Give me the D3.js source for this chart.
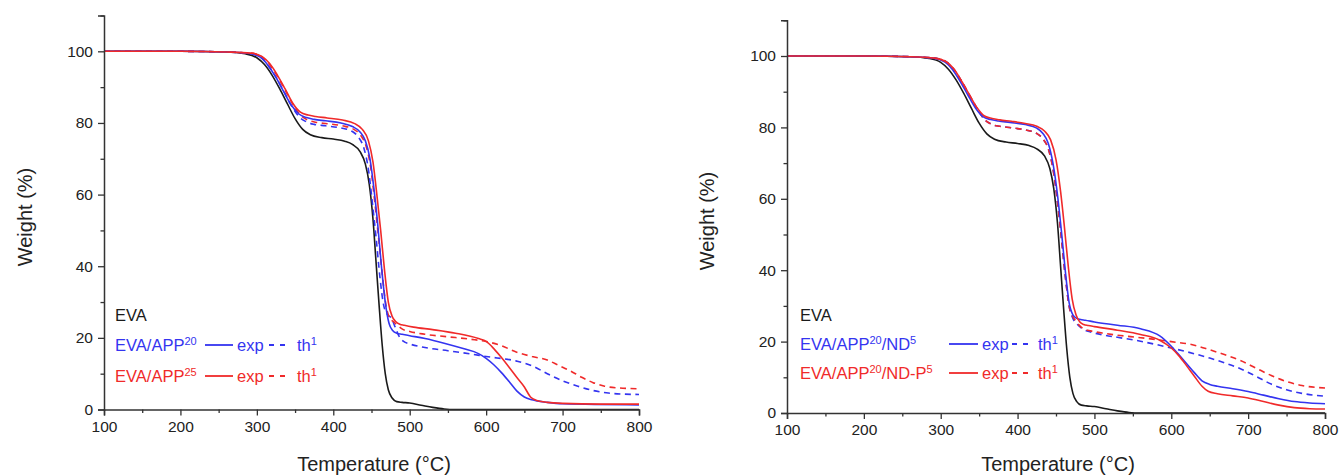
<!DOCTYPE html>
<html>
<head>
<meta charset="utf-8">
<script src="https://cdn.jsdelivr.net/npm/d3@7"></script>
<style>
  html, body { margin: 0; padding: 0; background: #fff; }
  svg { display: block; font-family: "Liberation Sans", Arial, sans-serif; }
</style>
</head>
<body>
<svg id="chart" width="1340" height="475"></svg>
<script>
// ---------- data ----------
const xTickValues = [100, 200, 300, 400, 500, 600, 700, 800];
const yTickValues = [0, 20, 40, 60, 80, 100];

// EVA (same sample in both panels)
const evaT = [100,200,260,285,300,310,320,330,340,350,360,370,385,400,415,425,435,442,447,452,456,460,464,468,472,477,483,490,500,515,530,545,560,800];
const evaW = [100,100,99.8,99.3,98.2,96.3,93.3,89.5,85.3,81.2,78.2,76.7,75.9,75.5,74.9,74.0,72.0,68.5,63,53,41,29,18,10,5.5,3.2,2.2,2.0,1.8,1.2,0.6,0.15,0,0];

// Left panel: EVA/APP20
const app20ExpT = [100,200,260,290,305,315,325,335,345,355,365,375,390,410,425,435,442,448,453,458,463,468,473,478,483,490,500,520,545,570,590,600,610,620,630,640,650,660,680,700,800];
const app20ExpW = [100,100,99.8,99.4,98.3,96.0,92.7,88.8,85.0,82.5,81.5,81.0,80.6,80.0,79.0,77.5,75.0,70,62,52,40,30,24,22,21.3,21,20.6,19.8,18.5,17.0,15.6,14.3,12.5,10.3,7.8,5.2,3.5,2.7,2.0,1.6,1.3];
const app20ThT = [100,200,260,290,305,315,325,335,345,355,365,375,390,410,425,433,440,446,451,456,461,466,471,476,481,486,492,500,520,550,580,600,640,660,680,700,720,740,760,780,800];
const app20ThW = [100,100,99.8,99.4,98.3,96,92.8,88.9,84.9,81.8,80.3,79.6,79.2,78.6,77.6,76.0,73,67,58,48,37,29,26.5,25.5,23,20.5,19,18.3,17.3,16.4,15.5,14.8,13.5,12.2,10,8,6.5,5.3,4.6,4.3,4.2];

// Left panel: EVA/APP25
const app25ExpT = [100,200,260,292,307,317,327,337,347,357,367,377,392,412,428,438,446,452,457,462,467,472,477,482,487,493,505,530,560,590,600,610,620,630,640,650,658,665,680,700,750,800];
const app25ExpW = [100,100,99.8,99.5,98.5,96.5,93.3,89.5,85.5,83,82.2,81.8,81.4,80.8,79.8,78.2,75,69,60,50,39,30,26,24.5,23.8,23.5,23,22.3,21.3,19.8,19,17,14.5,11.8,9,6.3,3.5,2.6,2.0,1.7,1.5,1.5];
const app25ThT = [100,200,260,292,307,317,327,337,347,357,367,377,392,412,427,436,443,449,454,459,464,469,474,479,484,490,500,520,550,580,600,620,640,660,680,695,710,725,740,755,775,800];
const app25ThW = [100,100,99.8,99.5,98.4,96.2,93,89.2,85.2,82.2,80.8,80.2,79.8,79.2,78.2,76.5,73.5,67.5,58.5,48.5,38,29,25.5,24.5,23.5,22.5,21.8,21,20.3,19.6,19,17.8,16,14.8,13.8,12.3,10.8,9,7.5,6.5,6,5.8];

// Right panel: EVA/APP20/ND5
const ndExpT = [100,200,260,290,305,315,325,335,345,355,365,375,390,410,425,433,440,446,452,457,462,467,472,477,482,488,500,530,560,585,600,610,620,630,640,650,660,680,700,720,740,760,780,800];
const ndExpW = [100,100,99.8,99.4,98.4,96.3,93,89.2,85.5,83,82.2,81.8,81.4,80.8,79.8,78.3,75.5,70,61,51,40,31,27.5,26.5,26.2,26,25.5,24.6,23.6,21.6,18.7,16.3,13.8,11.3,9,8,7.5,6.8,6,5,4,3.2,2.8,2.6];
const ndThT = [100,200,260,292,307,317,327,337,347,357,367,377,392,410,425,433,440,446,452,457,462,467,472,477,482,487,495,510,530,560,600,630,650,670,690,710,730,750,770,800];
const ndThW = [100,100,99.8,99.4,98.4,96.3,93,89.2,85.4,82.2,80.8,80.3,79.9,79.3,78.3,76.8,74,68.5,59,49,38.5,30,26.5,25,24,23.3,22.7,21.9,21.2,20.1,18.2,16.6,15.4,14,12.4,10.3,8.1,6.5,5.5,4.7];

// Right panel: EVA/APP20/ND-P5
const ndpExpT = [100,200,260,292,307,317,327,337,347,357,367,377,392,410,425,435,443,450,456,461,466,471,476,481,486,492,500,530,560,585,600,610,620,630,640,648,660,680,700,720,740,760,780,800];
const ndpExpW = [100,100,99.8,99.4,98.4,96.4,93,89.3,85.6,83.2,82.5,82.1,81.7,81.1,80.3,79,76.5,71,62,52,41,32,27.5,25.5,24.8,24.5,24.2,23.2,22,20.4,18.2,16,13.2,10.3,7.5,6.1,5.4,4.8,4.2,3.2,2.2,1.5,1.2,1.1];
const ndpThT = [100,200,260,292,307,317,327,337,347,357,367,377,392,410,425,433,440,446,452,457,462,467,472,477,482,487,495,510,530,560,600,630,650,670,690,710,730,750,770,800];
const ndpThW = [100,100,99.8,99.4,98.4,96.3,93,89.2,85.4,82.2,80.8,80.3,79.9,79.3,78.3,76.8,74,68.5,59,49,38.5,30,27,25.5,24.2,23.5,23,22.4,21.8,21.1,20,19,17.7,16.3,14.7,12.6,10.5,8.8,7.7,7];

// legend labels
const leftLegend = [
  { parts: [["EVA", false]], color: "black", exp: false },
  { parts: [["EVA/APP", false], ["20", true]], color: "blue", exp: true },
  { parts: [["EVA/APP", false], ["25", true]], color: "red", exp: true }
];
const rightLegend = [
  { parts: [["EVA", false]], color: "black", exp: false },
  { parts: [["EVA/APP", false], ["20", true], ["/ND", false], ["5", true]], color: "blue", exp: true },
  { parts: [["EVA/APP", false], ["20", true], ["/ND-P", false], ["5", true]], color: "red", exp: true }
];

// ---------- styling ----------
const COLORS = { black: "#1a1a1a", blue: "#3434f0", red: "#f02a2a" };
const DASH = "6,4.5";
const svg = d3.select("#chart");

function zip(T, W) { return T.map((t, i) => [t, W[i]]); }

function drawPanel(opt) {
  const x = d3.scaleLinear().domain([100, 800]).range([opt.x0, opt.x1]);
  const y = d3.scaleLinear().domain([0, 110]).range([opt.y0, opt.yTop]);
  const g = svg.append("g");

  const line = d3.line().x(d => x(d[0])).y(d => y(d[1])).curve(d3.curveMonotoneX);

  // series
  opt.series.forEach(s => {
    g.append("path")
      .attr("d", line(zip(s.T, s.W)))
      .attr("fill", "none")
      .attr("stroke", COLORS[s.color])
      .attr("stroke-width", 1.6)
      .attr("stroke-linejoin", "round")
      .attr("stroke-dasharray", s.dash ? DASH : null);
  });

  // axes
  const xAxis = d3.axisBottom(x).tickValues(xTickValues).tickSize(6).tickPadding(5).tickFormat(d3.format("d"));
  const xMinor = d3.axisBottom(x).tickValues(d3.range(150, 800, 100)).tickSize(3.5).tickFormat("");
  const yAxis = d3.axisLeft(y).tickValues(yTickValues).tickSize(6).tickPadding(5).tickFormat(d3.format("d"));
  const yMinor = d3.axisLeft(y).tickValues(d3.range(10, 111, 20)).tickSize(3.5).tickFormat("");

  const gx = g.append("g").attr("transform", `translate(0,${opt.y0})`).call(xAxis);
  const gxm = g.append("g").attr("transform", `translate(0,${opt.y0})`).call(xMinor);
  const gy = g.append("g").attr("transform", `translate(${opt.x0},0)`).call(yAxis);
  const gym = g.append("g").attr("transform", `translate(${opt.x0},0)`).call(yMinor);
  [gx, gxm, gy, gym].forEach(a => {
    a.selectAll("path.domain").attr("stroke", "#333").attr("stroke-width", 1.5);
    a.selectAll(".tick line").attr("stroke", "#333").attr("stroke-width", 1.3);
    a.selectAll(".tick text").attr("fill", "#222").style("font-size", "15.5px")
      .style("font-family", "'Liberation Sans', Arial, sans-serif");
  });
  gxm.select("path.domain").remove();
  gym.select("path.domain").remove();

  // axis titles
  g.append("text")
    .attr("x", opt.xTitleX).attr("y", 471)
    .attr("text-anchor", "middle")
    .style("font-size", "20px").attr("fill", "#222")
    .text("Temperature (°C)");
  g.append("text")
    .attr("transform", `translate(${opt.yTitleX},${opt.yTitleY}) rotate(-90)`)
    .attr("text-anchor", "middle")
    .style("font-size", "20px").attr("fill", "#222")
    .text("Weight (%)");

  // legend
  opt.legend.forEach((row, i) => {
    const by = opt.legBase[i];
    const t = g.append("text").attr("x", opt.legX).attr("y", by)
      .attr("fill", COLORS[row.color]).style("font-size", "16.5px");
    row.parts.forEach(p => {
      const ts = t.append("tspan").text(p[0]);
      if (p[1]) ts.attr("baseline-shift", "super").style("font-size", "11px");
    });
    if (row.exp) {
      const cy = by - 6;
      g.append("line").attr("x1", opt.lineX[0]).attr("x2", opt.lineX[1])
        .attr("y1", cy).attr("y2", cy)
        .attr("stroke", COLORS[row.color]).attr("stroke-width", 1.8);
      g.append("text").attr("x", opt.expX).attr("y", by)
        .attr("fill", COLORS[row.color]).style("font-size", "16.5px").text("exp");
      g.append("line").attr("x1", opt.dashX[0]).attr("x2", opt.dashX[1])
        .attr("y1", cy).attr("y2", cy)
        .attr("stroke", COLORS[row.color]).attr("stroke-width", 1.8)
        .attr("stroke-dasharray", "5,6");
      const th = g.append("text").attr("x", opt.thX).attr("y", by)
        .attr("fill", COLORS[row.color]).style("font-size", "16.5px");
      th.append("tspan").text("th");
      th.append("tspan").text("1").attr("baseline-shift", "super").style("font-size", "11px");
    }
  });
}

drawPanel({
  x0: 104, x1: 639, y0: 409.5, yTop: 15.5,
  xTitleX: 374, yTitleX: 32, yTitleY: 217,
  legX: 115, legBase: [321, 351, 382],
  lineX: [205, 233], expX: 237, dashX: [269, 291], thX: 297,
  legend: leftLegend,
  series: [
    { T: evaT, W: evaW, color: "black", dash: false },
    { T: app20ThT, W: app20ThW, color: "blue", dash: true },
    { T: app25ThT, W: app25ThW, color: "red", dash: true },
    { T: app20ExpT, W: app20ExpW, color: "blue", dash: false },
    { T: app25ExpT, W: app25ExpW, color: "red", dash: false }
  ]
});

drawPanel({
  x0: 787, x1: 1325, y0: 413, yTop: 20.3,
  xTitleX: 1058, yTitleX: 714, yTitleY: 221,
  legX: 800, legBase: [321, 350, 379],
  lineX: [949, 978], expX: 982, dashX: [1012, 1032], thX: 1038,
  legend: rightLegend,
  series: [
    { T: evaT, W: evaW, color: "black", dash: false },
    { T: ndThT, W: ndThW, color: "blue", dash: true },
    { T: ndpThT, W: ndpThW, color: "red", dash: true },
    { T: ndExpT, W: ndExpW, color: "blue", dash: false },
    { T: ndpExpT, W: ndpExpW, color: "red", dash: false }
  ]
});
</script>
</body>
</html>
